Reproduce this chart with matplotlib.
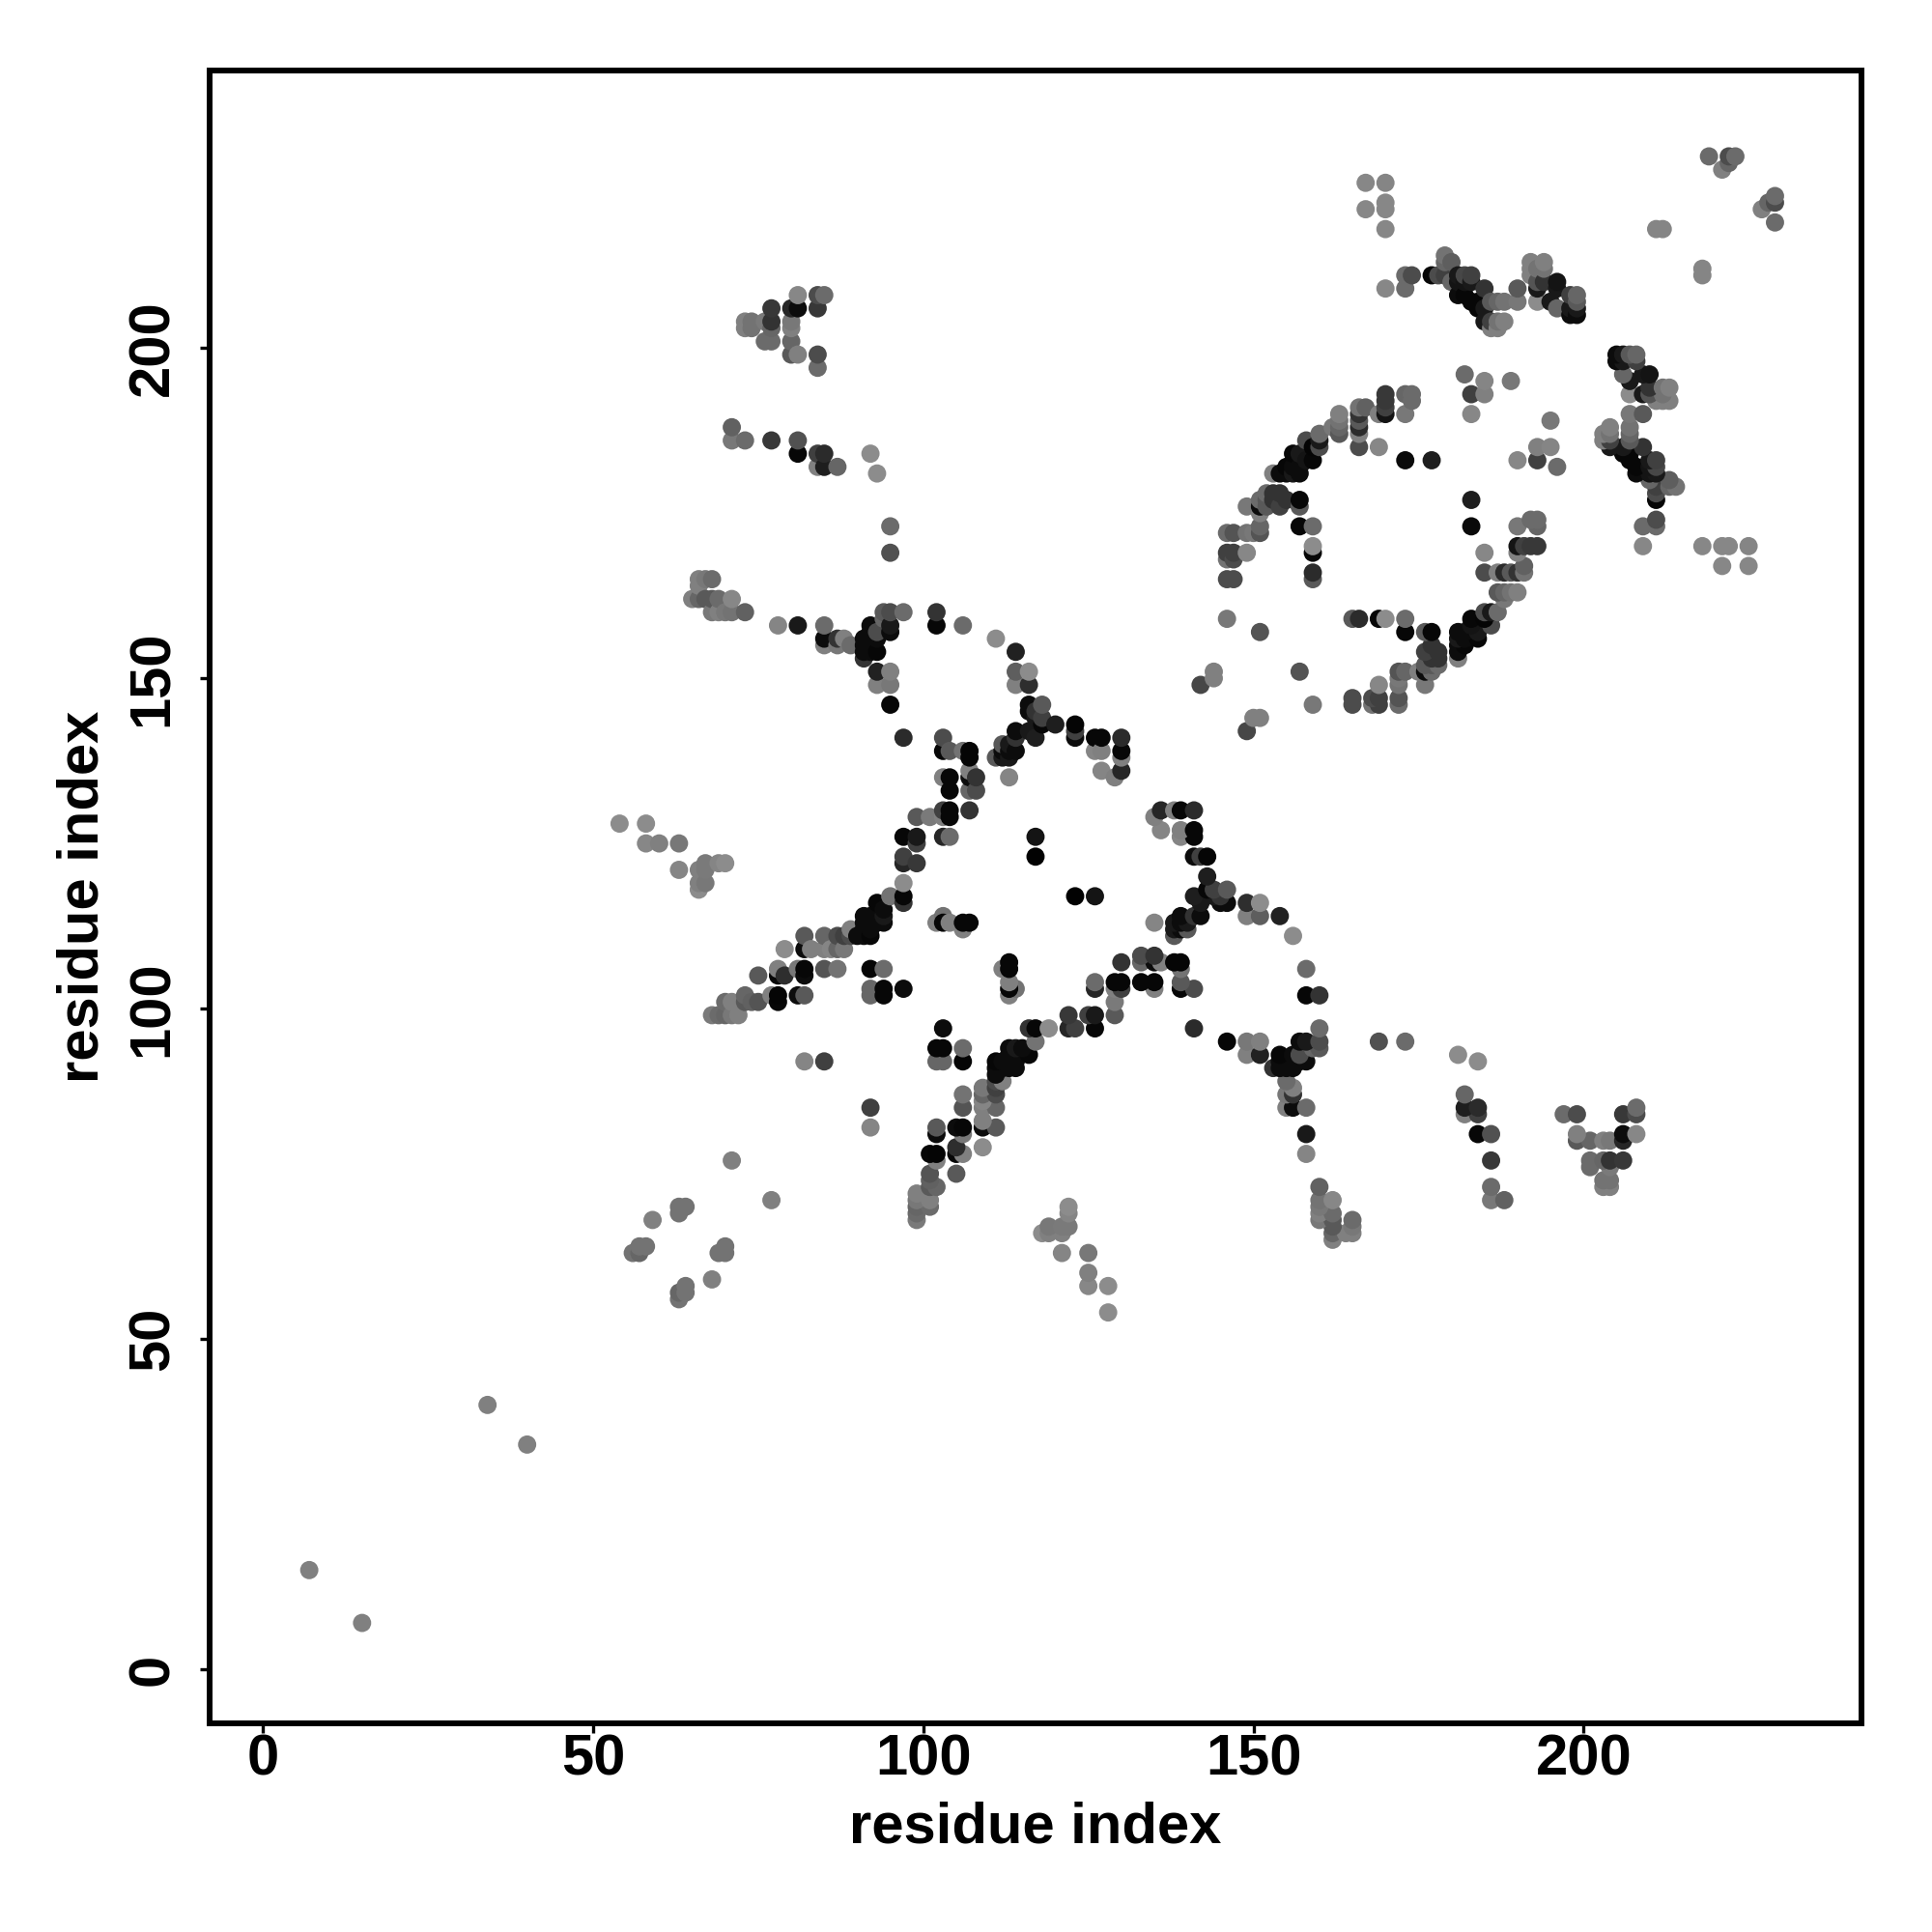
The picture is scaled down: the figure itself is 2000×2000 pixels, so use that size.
import numpy as np
import matplotlib
matplotlib.use("Agg")
import matplotlib.pyplot as plt

plt.rcParams["font.family"] = ["Liberation Sans", "DejaVu Sans"]

# contact map, symmetric, so only i < j is listed. one row per residue i
residue_i = [7, 34, 54, 56, 57, 58, 59, 60, 63, 64, 65, 66, 67, 68, 69, 70, 71, 72, 73, 74, 75, 76, 77, 78, 79, 80,
             81, 82, 83, 84, 85, 86, 87, 88, 89, 90, 91, 92, 93, 94, 95, 97, 99, 101, 102, 103, 104, 106, 107, 108,
             111, 112, 113, 114, 116, 117, 118, 120, 123, 126, 127, 129, 130, 142, 144, 146, 147, 149, 150, 151,
             152, 153, 154, 155, 156, 157, 158, 159, 160, 162, 163, 166, 167, 169, 170, 173, 174, 177, 178, 179,
             180, 181, 182, 183, 184, 185, 186, 187, 188, 189, 190, 192, 193, 194, 195, 196, 198, 199, 211, 212,
             219, 221, 222, 223]
residue_j = [[15], [40], [128], [63], [63, 64], [64, 125, 128], [68], [125], [69, 70, 121, 125], [70], [162],
             [118, 119, 121, 162, 164, 165], [119, 121, 122, 162, 165], [99, 160, 162, 165], [99, 122, 160, 162],
             [99, 101, 122, 160], [77, 99, 101, 160, 162, 186, 188], [99], [101, 102, 160, 186, 203, 204],
             [101, 203, 204], [101, 105], [201, 204], [102, 186, 201, 203, 204, 206], [101, 102, 105, 106, 158],
             [105, 109], [199, 201, 203, 204, 206],
             [102, 106, 158, 184, 186, 199, 206, 208], [92, 102, 105, 106, 109, 111], [109],
             [182, 184, 197, 199, 206, 208], [92, 106, 109, 111, 155, 156, 158, 182, 184, 208], [109],
             [106, 109, 111, 155, 156, 182], [109, 111, 156], [111, 112, 155], [111],
             [111, 112, 113, 114, 153, 154, 155, 156],
             [102, 103, 106, 111, 112, 113, 114, 154, 155, 156, 157, 158, 184],
             [113, 114, 116, 149, 151, 154, 156, 157, 181], [102, 103, 106, 113, 114, 115, 159, 160],
             [117, 146, 149, 151, 157, 158, 160, 169, 173], [103, 116, 117, 119, 122, 123, 126, 141, 160],
             [122, 125, 126, 129], [129], [113, 158, 160], [114, 113, 126, 129, 130, 135, 139, 141],
             [113, 126, 129, 130, 133, 135, 139], [112, 113, 139, 158], [113, 130, 133, 135, 136, 138, 139],
             [133, 135],
             [138, 156], [138, 139, 140], [135, 138, 139, 140], [139, 141, 142, 149, 151, 154],
             [142, 145, 146, 149, 151], [123, 126, 141, 144, 145], [143, 144, 146], [143], [141, 142, 143],
             [139, 141], [136, 139, 141], [135], [136, 138, 139, 141], [149], [150, 151],
             [159, 165, 168, 169, 172], [165, 168, 169, 172], [169, 172, 176], [172],
             [157, 172, 173, 175, 176, 177],
             [176, 177, 178], [177, 178, 181], [176, 178, 181], [177, 181, 182], [181, 182, 184],
             [173, 176, 177, 181, 182, 184], [183, 186], [165, 166, 169, 170, 173, 183, 185], [185, 186, 187],
             [188], [187, 188, 189, 190], [185, 187, 188, 189, 190, 191], [191, 221, 225], [185, 190],
             [190, 191, 192, 193, 209, 218, 221, 222, 225], [183, 190, 193, 209, 211], [192, 193, 211],
             [183, 211], [211], [211, 213, 214],
             [210, 213], [208, 210, 211], [196, 208, 210, 211], [190, 193, 207, 210, 211], [206, 207],
             [193, 195, 204, 206, 209], [203, 204, 207], [203, 204, 207], [204, 207], [195], [207, 209],
             [211, 212, 213], [207, 209, 210, 212], [210, 212, 213], [207], [206, 209, 210], [205, 206, 208],
             [205, 206, 207, 208], [218], [218],
             [229], [227], [228, 229], [229]]
gray_level = [[.5], [.5], [.55], [.45], [.4, .45], [.45, .53, .55], [.5], [.5], [.45, .45, .52, .47], [.45], [.5],
              [.55, .5, .5, .4, .5, .5], [.47, .48, .48, .35, .47], [.48, .47, .35, .42], [.42, .52, .5, .42],
              [.4, .42, .55, .47], [.5, .47, .5, .45, .53, .47, .38], [.5], [.35, .4, .38, .42, .5, .5],
              [.38, .45, .45], [.33, .35], [.42, .48], [.5, .22, .42, .4, .2, .22], [.03, .02, .03, .5, .52],
              [.18, .55], [.35, .4, .5, .47, .15],
              [.05, .47, .1, .03, .32, .5, .05, .53], [.52, .35, .05, .03, .05, .35], [.5],
              [.5, .25, .42, .3, .22, .3], [.25, .33, .5, .4, .5, .05, .42, .12, .17, .42], [.52],
              [.45, .4, .3, .47, .2, .4], [.47, .25, .5], [.3, .5, .42], [.05],
              [.05, .05, .05, .05, .2, .05, .05, .05],
              [.4, .4, .02, .03, .05, .05, .05, .05, .05, .05, .05, .05, .55],
              [.05, .05, .03, .5, .13, .03, .05, .3, .55], [.03, .03, .42, .05, .1, .05, .4, .35],
              [.45, .03, .47, .5, .05, .1, .3, .32, .42], [.05, .2, .03, .55, .15, .25, .03, .17, .42],
              [.22, .25, .1, .35], [.48], [.5, .03, .2], [.45, .03, .15, .5, .25, .5, .03, .3],
              [.5, .42, .03, .03, .03, .03, .35], [.5, .03, .45, .42], [.03, .2, .4, .05, .5, .02, .02],
              [.3, .2],
              [.35, .55], [.1, .05, .35], [.52, .1, .05, .1], [.05, .2, .05, .5, .37, .13],
              [.1, .05, .05, .18, .55], [.01, .08, .12, .1, .2], [.03, .25, .35], [.12], [.05, .25, .02],
              [.52, .03], [.52, .5, .03], [.5], [.15, .5, .03, .17], [.28], [.5, .5],
              [.47, .3, .45, .25, .42], [.3, .3, .25, .33], [.53, .45, .47], [.47],
              [.33, .33, .4, .5, .05, .42],
              [.35, .35, .42], [.2, .2, .5], [.25, .2, .05], [.2, .05, .03], [.1, .05, .03],
              [.03, .35, .03, .05, .05, .1], [.08, .3], [.35, .17, .03, .55, .42, .03, .02], [.3, .1, .42],
              [.47], [.35, .4, .45, .5], [.3, .5, .17, .35, .2, .45], [.38, .53, .53], [.53, .5],
              [.08, .25, .22, .22, .53, .53, .53, .53, .52], [.04, .47, .4, .42, .42], [.42, .42, .3],
              [.12, .03], [.3], [.25, .4, .45],
              [.4, .37], [.05, .08, .1], [.42, .03, .08, .28], [.53, .25, .03, .1, .25], [.03, .03],
              [.5, .52, .1, .1, .2], [.5, .25, .35], [.5, .45, .4], [.5, .45], [.47], [.47, .35],
              [.5, .5, .5], [.55, .1, .33, .45], [.2, .45, .5], [.1], [.4, .1, .08], [.05, .1, .25],
              [.05, .1, .35, .4], [.52], [.52],
              [.42], [.5], [.4, .3], [.42]]

tick_values = [0, 50, 100, 150, 200]

x = np.array([a for a, row in zip(residue_i, residue_j) for b in row])
y = np.array([b for row in residue_j for b in row])
g = np.array([v for row in gray_level for v in row])

fig = plt.figure(figsize=(20, 20), dpi=100)
ax = fig.add_axes([0.1085, 0.108, 0.855, 0.8555])

# both triangles of the map
ax.scatter(np.r_[x, y], np.r_[y, x], c=np.r_[g, g], cmap="gray", vmin=0, vmax=1, s=185, linewidths=0)

ax.set_xlim(-8.09, 242.1)
ax.set_ylim(-8.2, 242.0)
ax.set_xticks(tick_values)
ax.set_yticks(tick_values)
ax.tick_params(axis="x", length=7.2, width=2.4, labelsize=43, pad=0.5)
ax.tick_params(axis="y", length=7.2, width=2.4, labelsize=43, pad=15)
for lab in ax.get_xticklabels():
    lab.set_fontweight("bold")
for lab in ax.get_yticklabels():
    lab.set_fontweight("bold")
    lab.set_rotation(90)
    lab.set_va("center")
for s in ax.spines.values():
    s.set_linewidth(4.3)

ax.set_xlabel("residue index", fontsize=43, fontweight="bold")
ax.set_ylabel("residue index", fontsize=43, fontweight="bold")
ax.xaxis.set_label_coords(0.5, -0.0471)
ax.yaxis.set_label_coords(-0.0605, 0.5)

fig.savefig("out.png", dpi=100, facecolor="white")
